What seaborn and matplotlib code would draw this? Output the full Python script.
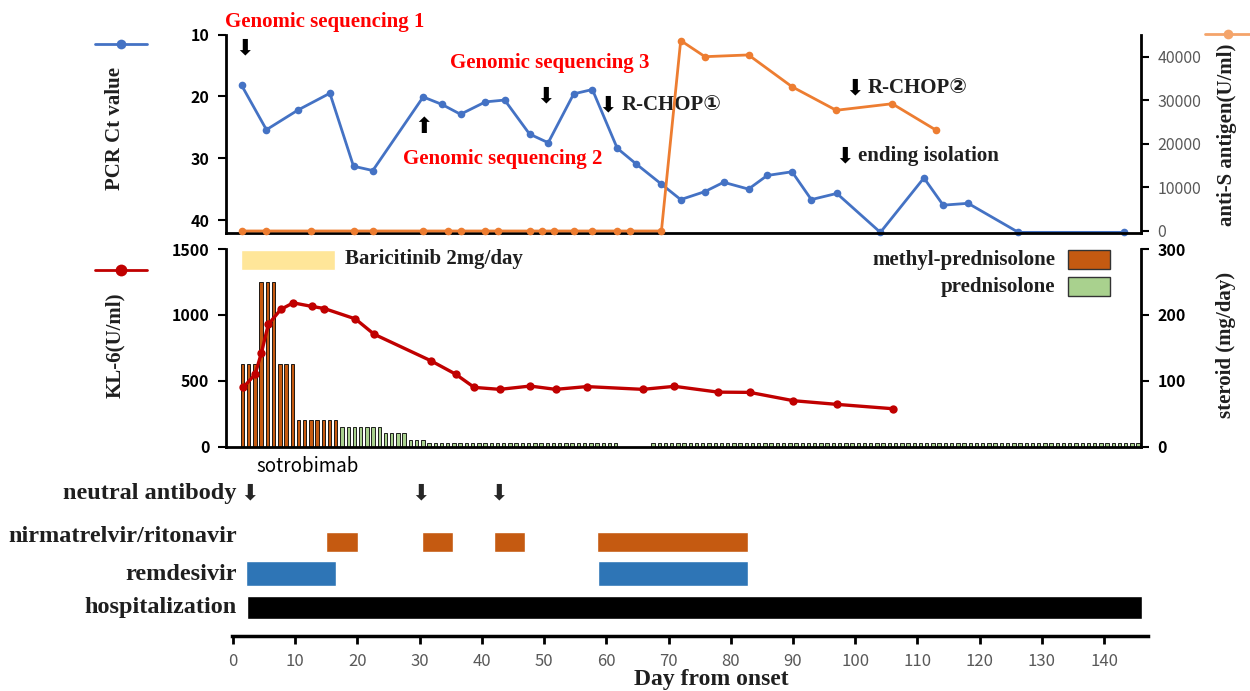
import numpy as np
import matplotlib
matplotlib.use("Agg")
import matplotlib.pyplot as plt
from matplotlib.lines import Line2D
from matplotlib.patches import Rectangle
import seaborn as sns

#%% values (x = day from onset)

# PCR Ct value (blue line, top panel, left axis)
ct_day = [1.4, 5.4, 10.5, 15.6, 19.4, 22.5, 30.6, 33.6, 36.6, 40.6, 43.7,
          47.7, 50.7, 54.8, 57.8, 61.8, 64.8, 68.9, 72.0, 75.9, 78.9, 82.9,
          85.9, 89.9, 93.0, 97.1, 104.1, 111.1, 114.2, 118.2, 126.3, 143.3]
ct_value = [18.2, 25.4, 22.2, 19.5, 31.3, 32.0, 20.1, 21.3, 22.9, 20.9, 20.6,
            26.1, 27.5, 19.6, 18.9, 28.4, 30.9, 34.2, 36.7, 35.4, 33.9, 35.0,
            32.8, 32.2, 36.7, 35.7, 42.0, 33.2, 37.6, 37.3, 42.0, 42.0]

# anti-S antigen (orange line, top panel, right axis)
antis_day = [1.4, 5.4, 12.5, 19.4, 22.5, 30.6, 34.6, 36.6, 40.6, 42.6, 47.7,
             49.7, 51.7, 54.8, 57.8, 61.8, 63.8, 68.9, 72.0, 75.9, 82.9, 89.9,
             97.0, 106.0, 113.1]
antis_value = [0, 0, 0, 0, 0, 0, 0, 0, 0, 0, 0, 0, 0, 0, 0, 0, 0, 0,
               43700, 40000, 40400, 33100, 27700, 29200, 23100]

# KL-6 (red line, middle panel, left axis)
kl6_day = [1.7, 3.6, 4.6, 5.7, 7.7, 9.7, 12.7, 14.7, 19.7, 22.7, 31.8, 35.8,
           38.8, 42.9, 47.8, 51.9, 56.9, 65.9, 71.0, 78.0, 83.1, 90.1, 97.1, 106.1]
kl6_value = [449, 550, 713, 927, 1041, 1091, 1064, 1048, 969, 853, 652, 550,
             449, 434, 459, 434, 455, 434, 457, 413, 411, 348, 320, 287]

# steroid courses (first day, last day, mg/day)
mpsl_course = [(1, 3, 125), (4, 6, 250), (7, 9, 125), (10, 16, 40)]
psl_course = [(17, 23, 30), (24, 27, 20), (28, 30, 10), (31, 61, 5), (67, 145, 5)]

baricitinib_period = (1.3, 16.4)

# treatment timeline (start day, end day)
nirmatrelvir_period = [(15.0, 20.1), (30.3, 35.4), (41.9, 47.0), (58.5, 82.8)]
remdesivir_period = [(2.1, 16.6), (58.6, 82.8)]
hospital_period = [(2.3, 146.1)]
antibody_day = [2.6, 30.2, 42.6]

# events marked with arrows in the top panel
event_day = {'gs1': 1.8, 'gs2': 30.6, 'gs3': 50.3, 'rchop1': 60.3,
             'rchop2': 100.0, 'isolation': 98.4}

ct_ticks = [10, 20, 30, 40]
antis_ticks = [0, 10000, 20000, 30000, 40000]
kl6_ticks = [0, 500, 1000, 1500]
steroid_ticks = [0, 100, 200, 300]
day_ticks = [0, 10, 20, 30, 40, 50, 60, 70, 80, 90, 100, 110, 120, 130, 140]

#%% style
BLUE = '#4472C4'
ORANGE = '#ED7D31'
RED = '#C00000'
MPSL = '#C55A11'
PSL = '#A9D18E'
BARI = '#FFE699'
REM = '#2E75B6'
TXT = '#1f1f1f'

sns.set_style("ticks")
plt.rcParams['font.family'] = ['Noto Sans CJK JP', 'DejaVu Sans']
SERIF = ['Liberation Serif', 'DejaVu Sans', 'Noto Sans CJK JP']
ARROW = ['DejaVu Sans']

W, H = 1250, 691
fig = plt.figure(figsize=(W / 100, H / 100), dpi=100)


def px_box(x0, y0, x1, y1):
    return [x0 / W, 1 - y1 / H, (x1 - x0) / W, (y1 - y0) / H]


ax_ct = fig.add_axes(px_box(226, 34.5, 1141, 233.3))
ax_ab = ax_ct.twinx()
ax_kl = fig.add_axes(px_box(226, 249, 1141, 446.5))
ax_st = ax_kl.twinx()
ax_tl = fig.add_axes(px_box(231.5, 476, 1147.7, 636))

#%% top panel
sns.lineplot(x=ct_day, y=ct_value, ax=ax_ct, color=BLUE, linewidth=2.0,
             marker='o', markersize=5.5, markeredgewidth=0, clip_on=False, sort=False)
sns.lineplot(x=antis_day, y=antis_value, ax=ax_ab, color=ORANGE, linewidth=2.0,
             marker='o', markersize=5.5, markeredgewidth=0, clip_on=False, sort=False)
ax_ct.set_xlim(-1.1, 146.0)
ax_ct.set_ylim(42.15, 10)
ax_ct.set_yticks(ct_ticks)
ax_ab.set_ylim(-530, 45090)
ax_ab.set_yticks(antis_ticks)

#%% middle panel
mpsl_x, mpsl_y, psl_x, psl_y = [], [], [], []
for a, b, d in mpsl_course:
    for day in range(a, b + 1):
        mpsl_x.append(day)
        mpsl_y.append(d)
for a, b, d in psl_course:
    for day in range(a, b + 1):
        psl_x.append(day)
        psl_y.append(d)
ax_st.bar(np.array(mpsl_x) + 0.55, mpsl_y, width=0.55, color=MPSL,
          edgecolor='black', linewidth=0.6)
ax_st.bar(np.array(psl_x) + 0.55, psl_y, width=0.55, color=PSL,
          edgecolor='black', linewidth=0.6)
ax_st.set_ylim(0, 300)
ax_st.set_yticks(steroid_ticks)

ax_kl.bar(baricitinib_period[0], 150, bottom=1340,
          width=baricitinib_period[1] - baricitinib_period[0], align='edge', color=BARI)
sns.lineplot(x=kl6_day, y=kl6_value, ax=ax_kl, color=RED, linewidth=2.4,
             marker='o', markersize=6, markeredgewidth=0, clip_on=False, sort=False)
ax_kl.set_xlim(-1.1, 146.0)
ax_kl.set_ylim(0, 1500)
ax_kl.set_yticks(kl6_ticks)
ax_kl.set_zorder(ax_st.get_zorder() + 1)
ax_kl.patch.set_visible(False)

for ax in (ax_ct, ax_ab, ax_kl, ax_st):
    for s in ax.spines.values():
        s.set_linewidth(2)
        s.set_color('black')
    ax.spines['top'].set_visible(False)
    ax.tick_params(axis='x', bottom=False, labelbottom=False)
    ax.tick_params(axis='y', direction='out', length=6, width=1.5,
                   labelsize=11.5, pad=6, colors='black')
    ax.set_xlabel('')
    ax.set_ylabel('')
    if ax is not ax_ab:
        for t in ax.get_yticklabels():
            t.set_fontweight('bold')
for ax in (ax_ct, ax_kl):
    ax.spines['right'].set_visible(False)
for ax in (ax_ab, ax_st):
    ax.spines['left'].set_visible(False)
    ax.spines['bottom'].set_visible(False)
ax_ab.tick_params(axis='y', labelcolor='#595959')

#%% timeline panel
for a, b in nirmatrelvir_period:
    ax_tl.barh(94.3, b - a, left=a, height=20, color=MPSL)
for a, b in remdesivir_period:
    ax_tl.barh(62.7, b - a, left=a, height=24.7, color=REM)
for a, b in hospital_period:
    ax_tl.barh(28.5, b - a, left=a, height=23, color='black')
for d in antibody_day:
    ax_tl.text(d, 143, '⬇', family=ARROW, fontsize=16, ha='center', va='center')

ax_tl.set_xlim(-0.25, 147.0)
ax_tl.set_ylim(0, 160)
ax_tl.set_yticks([])
ax_tl.set_xticks(day_ticks)
for side in ('top', 'left', 'right'):
    ax_tl.spines[side].set_visible(False)
ax_tl.spines['bottom'].set_linewidth(2.5)
ax_tl.spines['bottom'].set_color('black')
ax_tl.tick_params(axis='x', direction='out', length=6, width=2, labelsize=12,
                  pad=6, labelcolor='#595959', color='black')

row_labels = [('neutral antibody', 143), ('nirmatrelvir/ritonavir', 99),
              ('remdesivir', 61), ('hospitalization', 28)]
for lab, y in row_labels:
    ax_tl.text(0.6, y, lab, family=SERIF, fontweight='bold', fontsize=17.5,
               ha='right', va='center', color=TXT)
ax_tl.text(12.0, 170, 'sotrobimab', fontsize=13.5, ha='center', va='center',
           color='black', clip_on=False)

#%% annotations, top panel
red_txt = dict(family=SERIF, fontweight='bold', fontsize=15, color='#FF0000',
               ha='center', va='center', clip_on=False)
ax_ct.text(14.8, 7.98, 'Genomic sequencing 1', **red_txt)
ax_ct.text(51.0, 14.6, 'Genomic sequencing 3', **red_txt)
ax_ct.text(43.35, 30.13, 'Genomic sequencing 2', **red_txt)

arr = dict(family=ARROW, fontsize=16, ha='center', va='center', color='black')
ax_ct.text(event_day['gs1'], 12.18, '⬇', **arr)
ax_ct.text(event_day['gs3'], 19.95, '⬇', **arr)
ax_ct.text(event_day['gs2'], 24.96, '⬆', **arr)
ax_ct.text(event_day['rchop1'], 21.4, '⬇', **arr)
ax_ct.text(event_day['rchop2'], 18.65, '⬇', **arr)
ax_ct.text(event_day['isolation'], 29.65, '⬇', **arr)

blk_txt = dict(family=SERIF, fontweight='bold', fontsize=15, color=TXT,
               ha='left', va='center')
ax_ct.text(event_day['rchop1'] + 2.25, 21.4, 'R-CHOP①', **blk_txt)
ax_ct.text(event_day['rchop2'] + 2.1, 18.65, 'R-CHOP②', **blk_txt)
ax_ct.text(event_day['isolation'] + 2.1, 29.65, 'ending isolation', **blk_txt)

ax_kl.text(18.0, 1424, 'Baricitinib 2mg/day', family=SERIF, fontweight='bold',
           fontsize=15, color=TXT, ha='left', va='center')

#%% axis titles and legends (figure pixel positions)
lab = dict(family=SERIF, fontweight='bold', fontsize=15, color=TXT,
           rotation=90, ha='center', va='center')
fig.text(115 / W, 1 - 128 / H, 'PCR Ct value', **lab)
fig.text(115 / W, 1 - 345 / H, 'KL-6(U/ml)', **lab)
fig.text(1227 / W, 1 - 135 / H, 'anti-S antigen(U/ml)', **lab)
fig.text(1226 / W, 1 - 345 / H, 'steroid (mg/day)', **lab)
fig.text(711 / W, 1 - 680 / H, 'Day from onset', family=SERIF, fontweight='bold',
         fontsize=17, color=TXT, ha='center', va='center')

for y, col, ms in ((44, BLUE, 7), (270, RED, 8.5)):
    fig.add_artist(Line2D([95 / W, 147 / W], [1 - y / H] * 2, color=col, lw=2))
    fig.add_artist(Line2D([121 / W], [1 - y / H], color=col, marker='o',
                          ms=ms, mew=0))
fig.add_artist(Line2D([1205 / W, 1250 / W], [1 - 34 / H] * 2, color='#F4A46A', lw=2))
fig.add_artist(Line2D([1228 / W], [1 - 34 / H], color='#F4A46A', marker='o', ms=7, mew=0))

for y, col, name in ((259.5, MPSL, 'methyl-prednisolone'), (286.5, PSL, 'prednisolone')):
    fig.add_artist(Rectangle((1068 / W, 1 - (y + 9.5) / H), 42 / W, 19 / H,
                             transform=fig.transFigure, facecolor=col,
                             edgecolor='#333333', linewidth=1))
    fig.text(1055 / W, 1 - y / H, name, family=SERIF, fontweight='bold',
             fontsize=15, color=TXT, ha='right', va='center')

fig.savefig('out.png', dpi=100)
